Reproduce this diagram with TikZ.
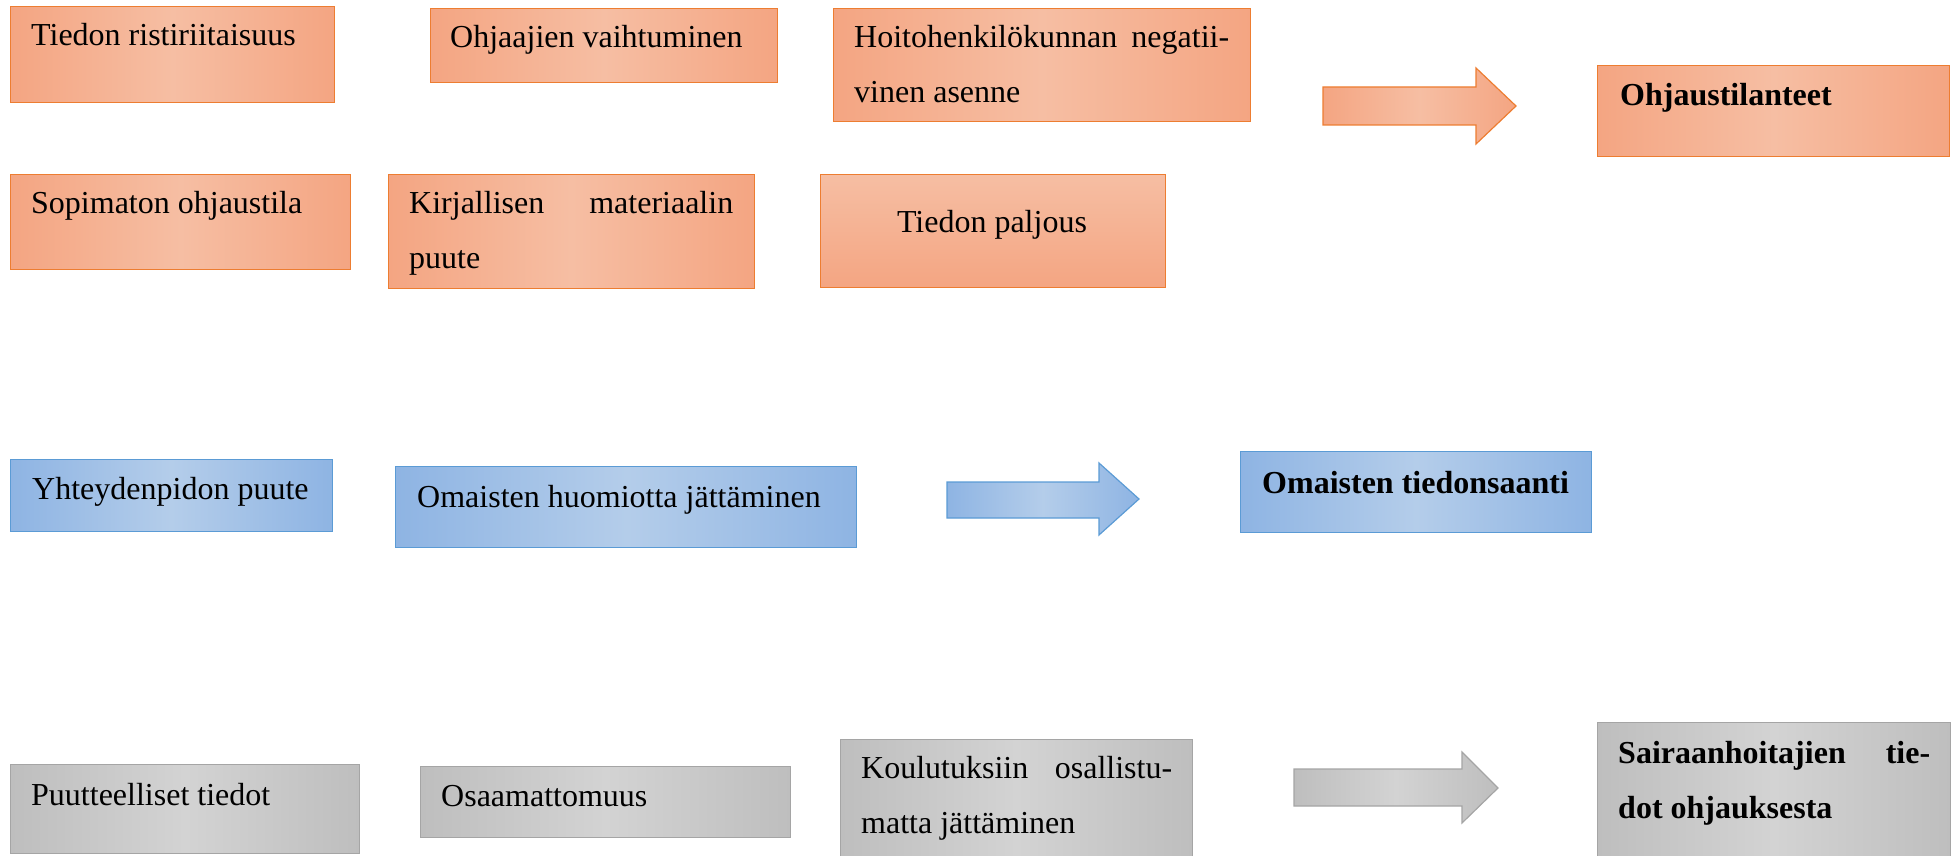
\documentclass[tikz,border=0pt]{standalone}
\usepackage{fontspec}
\setmainfont{Liberation Serif}
\definecolor{oedge}{HTML}{F4A582}
\definecolor{omid}{HTML}{F6BEA3}
\definecolor{oline}{HTML}{ED7D31}
\definecolor{bedge}{HTML}{8EB4E3}
\definecolor{bmid}{HTML}{B4CDEA}
\definecolor{bline}{HTML}{5B9BD5}
\definecolor{gedge}{HTML}{BEBEBE}
\definecolor{gmid}{HTML}{D3D3D3}
\definecolor{gline}{HTML}{A5A5A5}
\begin{document}
\begin{tikzpicture}[x=1pt,y=-1pt,
  box/.style={rectangle, anchor=north west, inner sep=0pt, line width=1.2pt},
  obox/.style={box, draw=oline, left color=oedge, right color=oedge, middle color=omid},
  bbox/.style={box, draw=bline, left color=bedge, right color=bedge, middle color=bmid},
  gbox/.style={box, draw=gline, left color=gedge, right color=gedge, middle color=gmid},
  oarrow/.style={draw=oline, line width=1.2pt, left color=oedge, right color=oedge, middle color=omid},
  barrow/.style={draw=bline, line width=1.2pt, left color=bedge, right color=bedge, middle color=bmid},
  garrow/.style={draw=gline, line width=1.2pt, left color=gedge, right color=gedge, middle color=gmid},
  txt/.style={inner sep=0pt, anchor=base west, font=\fontsize{32}{38}\selectfont},
  btxt/.style={txt, font=\fontsize{32}{38}\selectfont\bfseries}]
\useasboundingbox (0,0) rectangle (1952,856);
\clip (0,0) rectangle (1952,856);

% orange group
\node[obox, minimum width=324pt, minimum height=96pt] (b1) at (10,6) {};
\node[txt] (t1) at (31,46) {Tiedon ristiriitaisuus};
\node[obox, minimum width=347pt, minimum height=74pt] (b2) at (430,8) {};
\node[txt] (t2) at (450,48) {Ohjaajien vaihtuminen};
\node[obox, minimum width=417pt, minimum height=113pt] (b3) at (833,8) {};
\node[txt] (t3a) at (854,48) {\hbox to 375pt{Hoitohenkilökunnan\hfill negatii-}};
\node[txt] (t3b) at (854,103) {vinen asenne};
\node[obox, minimum width=352pt, minimum height=91pt] (b4) at (1597,65) {};
\node[btxt] (t4) at (1620,106) {Ohjaustilanteet};
\node[obox, minimum width=340pt, minimum height=95pt] (b5) at (10,174) {};
\node[txt] (t5) at (31,213) {Sopimaton ohjaustila};
\node[obox, minimum width=366pt, minimum height=114pt] (b6) at (388,174) {};
\node[txt] (t6a) at (409,213) {\hbox to 324pt{Kirjallisen\hfill materiaalin}};
\node[txt] (t6b) at (409,268) {puute};
\node[box, draw=oline, top color=omid, bottom color=oedge, minimum width=345pt, minimum height=113pt] (b7) at (820,174) {};
\node[txt, anchor=base] (t7) at (992,232) {Tiedon paljous};
\path[oarrow] (1323,87) -- (1476,87) -- (1476,68) -- (1516,106) -- (1476,144) -- (1476,125) -- (1323,125) -- cycle;

% blue group
\node[bbox, minimum width=322pt, minimum height=72pt] (c1) at (10,459) {};
\node[txt] (s1) at (32,499) {Yhteydenpidon puute};
\node[bbox, minimum width=461pt, minimum height=81pt] (c2) at (395,466) {};
\node[txt] (s2) at (417,507) {Omaisten huomiotta jättäminen};
\node[bbox, minimum width=351pt, minimum height=81pt] (c3) at (1240,451) {};
\node[btxt] (s3) at (1262,493) {Omaisten tiedonsaanti};
\path[barrow] (947,482) -- (1099,482) -- (1099,463) -- (1139,499) -- (1099,535) -- (1099,518) -- (947,518) -- cycle;

% gray group
\node[gbox, minimum width=349pt, minimum height=89pt] (d1) at (10,764) {};
\node[txt] (u1) at (31,805) {Puutteelliset tiedot};
\node[gbox, minimum width=370pt, minimum height=71pt] (d2) at (420,766) {};
\node[txt] (u2) at (441,806) {Osaamattomuus};
\node[gbox, minimum width=352pt, minimum height=131pt] (d3) at (840,739) {};
\node[txt] (u3a) at (861,778) {\hbox to 311pt{Koulutuksiin\hfill osallistu-}};
\node[txt] (u3b) at (861,833) {matta jättäminen};
\node[gbox, minimum width=353pt, minimum height=148pt] (d4) at (1597,722) {};
\node[btxt] (u4a) at (1618,763) {\hbox to 312pt{Sairaanhoitajien\hfill tie-}};
\node[btxt] (u4b) at (1618,818) {dot ohjauksesta};
\path[garrow] (1294,769) -- (1462,769) -- (1462,752) -- (1498,788) -- (1462,823) -- (1462,806) -- (1294,806) -- cycle;
\end{tikzpicture}
\end{document}
